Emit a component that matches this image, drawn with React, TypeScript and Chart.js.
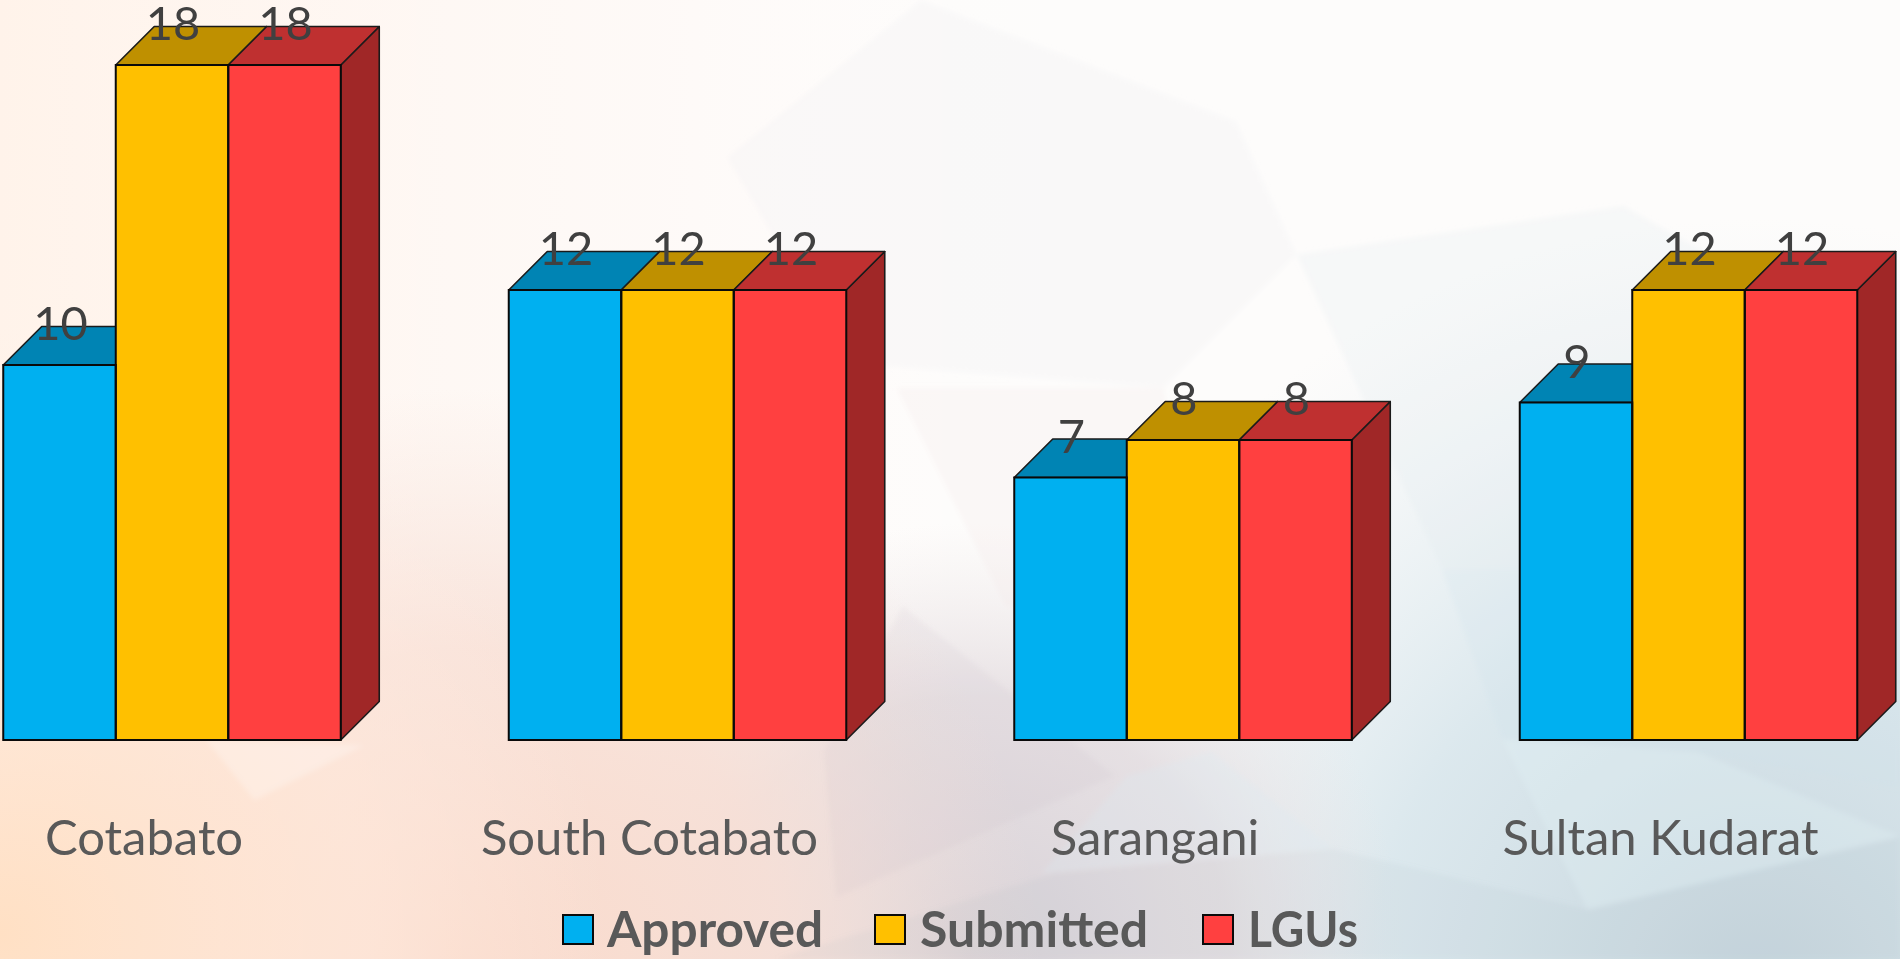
import React, { useEffect, useRef } from "react";
import { Chart, registerables, Plugin } from "chart.js";

Chart.register(...registerables);

const categories = ["Cotabato", "South Cotabato", "Sarangani", "Sultan Kudarat"];
const approved = [10, 12, 7, 9];
const submitted = [18, 12, 8, 12];
const lgus = [18, 12, 8, 12];

const seriesNames = ["Approved", "Submitted", "LGUs"];
const frontColors = ["#00B0F0", "#FFC000", "#FF4040"];
const topColors = ["#0084B4", "#BF9000", "#BF3030"];
const sideColors = ["#006A90", "#997300", "#A02727"];

const DEPTH = 38.5;
const OFFSET_X = 100; // the canvas starts left of the page so the first category can bleed off
const TEXT = "#595959";
const LABEL = "#404040";

const bars3d: Plugin<"bar"> = {
  id: "bars3d",
  beforeDatasetsDraw(chart) {
    const ctx = chart.ctx;
    ctx.save();
    ctx.lineWidth = 1.6;
    ctx.strokeStyle = "#1a1a1a";
    ctx.lineJoin = "round";
    chart.data.datasets.forEach((_, i) => {
      chart.getDatasetMeta(i).data.forEach((el: any) => {
        const l = el.x - el.width / 2;
        const r = el.x + el.width / 2;
        const t = el.y;
        const b = el.base;
        ctx.fillStyle = sideColors[i];
        ctx.beginPath();
        ctx.moveTo(r, t);
        ctx.lineTo(r + DEPTH, t - DEPTH);
        ctx.lineTo(r + DEPTH, b - DEPTH);
        ctx.lineTo(r, b);
        ctx.closePath();
        ctx.fill();
        ctx.stroke();
        ctx.fillStyle = topColors[i];
        ctx.beginPath();
        ctx.moveTo(l, t);
        ctx.lineTo(l + DEPTH, t - DEPTH);
        ctx.lineTo(r + DEPTH, t - DEPTH);
        ctx.lineTo(r, t);
        ctx.closePath();
        ctx.fill();
        ctx.stroke();
      });
    });
    ctx.restore();
  },
  afterDatasetsDraw(chart) {
    const ctx = chart.ctx;
    ctx.save();
    ctx.lineWidth = 2;
    ctx.strokeStyle = "#0a0a0a";
    chart.data.datasets.forEach((_, i) => {
      chart.getDatasetMeta(i).data.forEach((el: any) => {
        ctx.strokeRect(el.x - el.width / 2, el.y, el.width, el.base - el.y);
      });
    });
    ctx.fillStyle = LABEL;
    ctx.font = "47px Lato";
    ctx.textAlign = "center";
    ctx.textBaseline = "alphabetic";
    chart.data.datasets.forEach((ds, i) => {
      chart.getDatasetMeta(i).data.forEach((el: any, j: number) => {
        ctx.fillText(String(ds.data[j]), el.x + 1, el.y - 25);
      });
    });
    ctx.restore();
  },
};

const legendBlock: Plugin<"bar"> = {
  id: "legendBlock",
  afterDraw(chart) {
    const ctx = chart.ctx;
    const swatchX = [563, 875, 1203];
    const textX = [607, 920, 1248];
    const textW = [216, 230, 110];
    ctx.save();
    ctx.font = "bold 50px Lato";
    ctx.textAlign = "left";
    ctx.textBaseline = "alphabetic";
    chart.data.datasets.forEach((ds, i) => {
      ctx.fillStyle = ds.backgroundColor as string;
      ctx.fillRect(swatchX[i] + OFFSET_X, 915, 30, 29);
      ctx.lineWidth = 2;
      ctx.strokeStyle = "#0a0a0a";
      ctx.strokeRect(swatchX[i] + OFFSET_X, 915, 30, 29);
      ctx.fillStyle = TEXT;
      ctx.fillText(ds.label as string, textX[i] + OFFSET_X, 947, textW[i]);
    });
    ctx.restore();
  },
};

const facets: [string, string][] = [
  ["760,0 1020,100 1070,210 960,320 700,300 600,130", "rgba(235,235,238,0.18)"],
  ["740,320 960,320 1000,540 830,500", "rgba(245,232,232,0.25)"],
  ["1070,210 1340,170 1568,300 1568,470 1190,470", "rgba(222,233,238,0.22)"],
  ["1190,470 1568,470 1568,650 1400,620 1240,610", "rgba(205,225,235,0.2)"],
  ["170,610 300,615 210,660", "rgba(255,255,255,0.25)"],
  ["745,500 920,640 690,740 680,620", "rgba(190,175,190,0.1)"],
  ["1000,620 930,640 860,720 1100,700", "rgba(220,235,245,0.25)"],
  ["1100,700 1310,750 1568,690 1568,791 640,791 870,720", "rgba(150,165,180,0.08)"],
  ["1240,610 1400,620 1568,690 1310,750", "rgba(225,242,246,0.3)"],
];

export default function App() {
  const ref = useRef<HTMLCanvasElement>(null);
  useEffect(() => {
    if (!ref.current) return;
    const values = [approved, submitted, lgus];
    const chart = new Chart(ref.current, {
      type: "bar",
      data: {
        labels: categories,
        datasets: seriesNames.map((label, i) => ({
          label,
          data: values[i],
          backgroundColor: frontColors[i],
          borderColor: "#0a0a0a",
          borderWidth: 0,
          categoryPercentage: 337.5 / 505.5,
          barPercentage: 1,
        })),
      },
      options: {
        animation: false,
        responsive: false,
        layout: { padding: { left: 19.25, right: 58.75, top: 65, bottom: 0 } },
        plugins: { legend: { display: false }, tooltip: { enabled: false }, title: { display: false } },
        scales: {
          x: {
            grid: { display: false, drawTicks: false },
            border: { display: false },
            afterFit(scale: any) {
              scale.height = 219;
            },
            ticks: {
              color: TEXT,
              font: { family: "Lato", size: 49 },
              padding: 70,
              labelOffset: -28,
              maxRotation: 0,
              autoSkip: false,
            },
          },
          y: { display: false, min: 0, max: 18, grid: { display: false } },
        },
      },
      plugins: [bars3d, legendBlock],
    });
    return () => chart.destroy();
  }, []);
  return (
    <div style={{ position: "fixed", left: 0, top: 0, width: 1900, height: 959, overflow: "hidden", background: "#fdfcfb" }}>
      <svg viewBox="0 0 1568 791" preserveAspectRatio="none" style={{ position: "absolute", left: 0, top: 0, width: 1900, height: 959 }}>
        <defs>
          <radialGradient id="gA" gradientUnits="userSpaceOnUse" cx="0" cy="770" r="500">
            <stop offset="0" stopColor="#ffe0c4" />
            <stop offset="0.6" stopColor="#ffe8da" stopOpacity="0.7" />
            <stop offset="1" stopColor="#ffeee6" stopOpacity="0" />
          </radialGradient>
          <radialGradient id="gB" gradientUnits="userSpaceOnUse" cx="380" cy="800" r="480">
            <stop offset="0" stopColor="#f9d8c8" />
            <stop offset="0.55" stopColor="#f8dfd5" stopOpacity="0.85" />
            <stop offset="1" stopColor="#f8e4dc" stopOpacity="0" />
          </radialGradient>
          <radialGradient id="gC" gradientUnits="userSpaceOnUse" cx="800" cy="791" r="360">
            <stop offset="0" stopColor="#d6d0d6" />
            <stop offset="0.6" stopColor="#e0d8dc" stopOpacity="0.75" />
            <stop offset="1" stopColor="#ece4e4" stopOpacity="0" />
          </radialGradient>
          <radialGradient id="gD" gradientUnits="userSpaceOnUse" cx="1450" cy="820" r="640">
            <stop offset="0" stopColor="#c6d5dd" />
            <stop offset="0.5" stopColor="#d8e6ec" stopOpacity="0.9" />
            <stop offset="1" stopColor="#e6eff3" stopOpacity="0" />
          </radialGradient>
          <linearGradient id="gE" x1="0" y1="0" x2="1" y2="0">
            <stop offset="0" stopColor="#fff3ea" />
            <stop offset="0.35" stopColor="#fff8f5" stopOpacity="0.6" />
            <stop offset="0.6" stopColor="#ffffff" stopOpacity="0" />
          </linearGradient>
          <filter id="soft" x="-5%" y="-5%" width="110%" height="110%">
            <feGaussianBlur stdDeviation="2" />
          </filter>
        </defs>
        <rect width="1568" height="791" fill="#fdfcfb" />
        <rect width="1568" height="791" fill="url(#gE)" />
        <rect width="1568" height="791" fill="url(#gD)" />
        <rect width="1568" height="791" fill="url(#gC)" />
        <rect width="1568" height="791" fill="url(#gB)" />
        <rect width="1568" height="791" fill="url(#gA)" />
        <g filter="url(#soft)">
          {facets.map(([pts, fill], i) => (
            <polygon key={i} points={pts} fill={fill} />
          ))}
        </g>
      </svg>
      <canvas ref={ref} width={2100} height={959} style={{ position: "absolute", left: -OFFSET_X, top: 0, width: 2100, height: 959 }} />
    </div>
  );
}
